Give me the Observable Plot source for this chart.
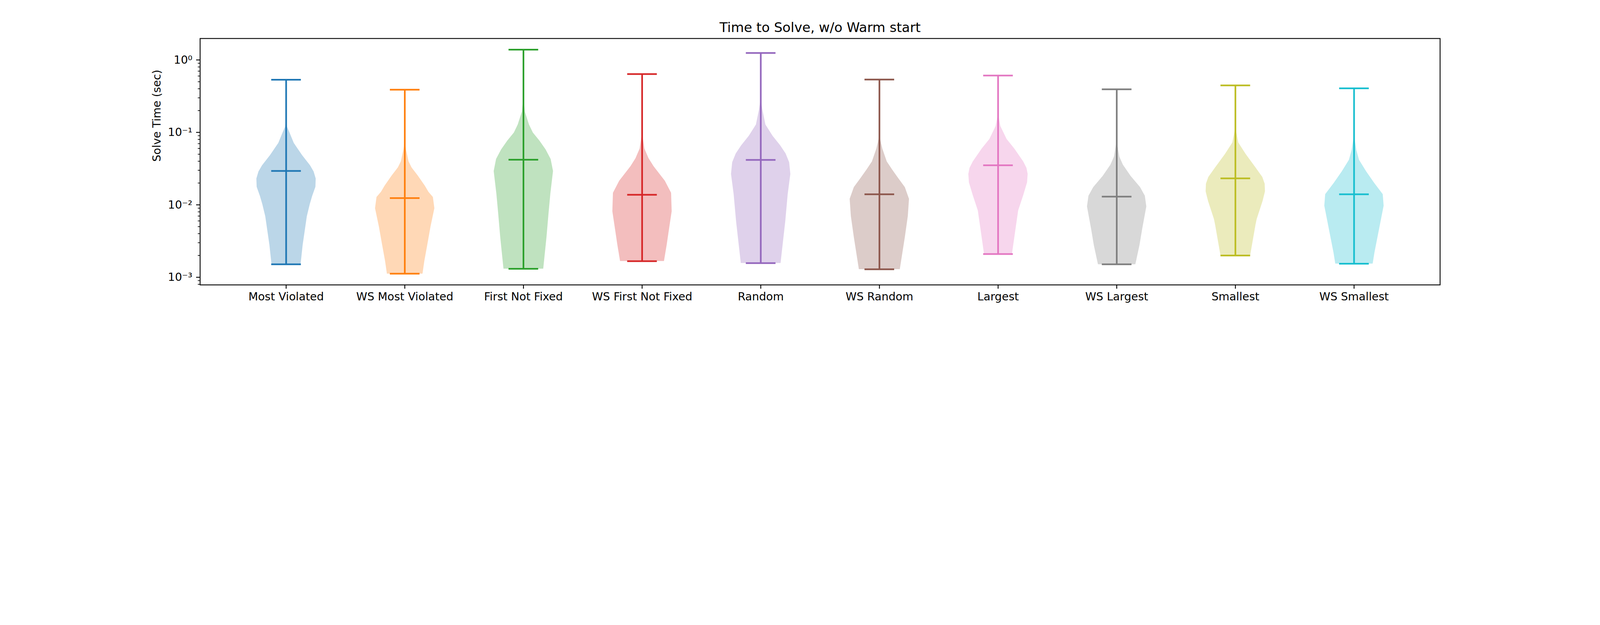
<!DOCTYPE html>
<html>
<head>
<meta charset="utf-8">
<script src="https://cdn.jsdelivr.net/npm/d3@7"></script>
<script src="https://cdn.jsdelivr.net/npm/@observablehq/plot@0.6"></script>
<style>
  html, body { margin: 0; padding: 0; background: white; }
  #chart svg { display: block; width: 100%; height: auto; }
</style>
</head>
<body>
<div id="chart"></div>
<script>
const methods = ["Most Violated", "WS Most Violated", "First Not Fixed", "WS First Not Fixed", "Random",
                 "WS Random", "Largest", "WS Largest", "Smallest", "WS Smallest"]
const palette = ["#1f77b4", "#ff7f0e", "#2ca02c", "#d62728", "#9467bd",
                 "#8c564b", "#e377c2", "#7f7f7f", "#bcbd22", "#17becf"]

// extrema and mean of each violin (sec)
const maxTime  = [0.533, 0.388, 1.387, 0.638, 1.246, 0.536, 0.610, 0.393, 0.445, 0.406]
const meanTime = [0.0294, 0.0124, 0.0419, 0.01376, 0.0417, 0.01397, 0.0352, 0.0130, 0.0232, 0.0140]
const minTime  = [0.00151, 0.00112, 0.00131, 0.00167, 0.00157, 0.00129, 0.00209, 0.00151, 0.00200, 0.00154]

// violin outlines: time (sec) and density relative to each violin's widest point
const mostViolatedT = [0.146, 0.120, 0.0987, 0.0714, 0.0484, 0.0350, 0.0288, 0.0230, 0.0177, 0.0132, 0.0102, 0.00692, 0.00439, 0.00279, 0.00151]
const mostViolatedD = [0, 0.03, 0.12, 0.26, 0.54, 0.81, 0.93, 1.0, 0.99, 0.88, 0.80, 0.70, 0.63, 0.56, 0.49]
const wsMostViolatedT = [0.0762, 0.0588, 0.0398, 0.0328, 0.0253, 0.0183, 0.0151, 0.0128, 0.00897, 0.00500, 0.00279, 0.00166, 0.00112]
const wsMostViolatedD = [0, 0.04, 0.13, 0.23, 0.44, 0.68, 0.80, 0.95, 1.0, 0.87, 0.76, 0.66, 0.60]
const firstNotFixedT = [0.306, 0.193, 0.128, 0.0994, 0.0769, 0.0581, 0.0428, 0.0292, 0.01426, 0.00773, 0.00359, 0.00131]
const firstNotFixedD = [0, 0.05, 0.19, 0.32, 0.54, 0.75, 0.92, 1.0, 0.91, 0.85, 0.78, 0.67]
const wsFirstNotFixedT = [0.0994, 0.0596, 0.0439, 0.0340, 0.0214, 0.01463, 0.00813, 0.00463, 0.00278, 0.00167]
const wsFirstNotFixedD = [0, 0.08, 0.22, 0.39, 0.77, 0.98, 1.0, 0.91, 0.83, 0.74]
const randomT = [0.290, 0.203, 0.128, 0.0897, 0.0660, 0.0511, 0.0386, 0.0266, 0.0139, 0.00598, 0.00157]
const randomD = [0, 0.06, 0.16, 0.40, 0.66, 0.84, 0.96, 1.0, 0.91, 0.83, 0.67]
const wsRandomT = [0.0897, 0.0596, 0.0396, 0.0307, 0.0232, 0.0175, 0.01205, 0.00698, 0.00359, 0.00129]
const wsRandomD = [0, 0.10, 0.25, 0.43, 0.64, 0.86, 1.0, 0.96, 0.86, 0.69]
const largestT = [0.1834, 0.1219, 0.0810, 0.0596, 0.0396, 0.0323, 0.0266, 0.0204, 0.01355, 0.00834, 0.00463, 0.00209]
const largestD = [0, 0.08, 0.29, 0.55, 0.85, 0.96, 1.0, 0.98, 0.85, 0.68, 0.59, 0.47]
const wsLargestT = [0.0769, 0.0462, 0.0358, 0.0250, 0.0175, 0.01334, 0.00947, 0.00463, 0.00278, 0.00151]
const wsLargestD = [0, 0.09, 0.21, 0.47, 0.79, 0.95, 1.0, 0.86, 0.77, 0.63]
const smallestT = [0.114, 0.0921, 0.0723, 0.0501, 0.0328, 0.0242, 0.0195, 0.01532, 0.01130, 0.00634, 0.00528, 0.00200]
const smallestD = [0, 0.05, 0.10, 0.35, 0.68, 0.91, 0.99, 1.0, 0.92, 0.72, 0.68, 0.50]
const wsSmallestT = [0.0921, 0.0567, 0.0418, 0.0290, 0.0201, 0.0140, 0.00971, 0.00545, 0.00219, 0.00154]
const wsSmallestD = [0, 0.08, 0.17, 0.41, 0.68, 0.97, 1.0, 0.88, 0.69, 0.63]

const majorTicks = [0.001, 0.01, 0.1, 1]
const majorLabels = ["10⁻³", "10⁻²", "10⁻¹", "10⁰"]
const minorTicks = [0.0008, 0.0009,
  0.002, 0.003, 0.004, 0.005, 0.006, 0.007, 0.008, 0.009,
  0.02, 0.03, 0.04, 0.05, 0.06, 0.07, 0.08, 0.09,
  0.2, 0.3, 0.4, 0.5, 0.6, 0.7, 0.8, 0.9]

const profiles = [
  [mostViolatedT, mostViolatedD], [wsMostViolatedT, wsMostViolatedD],
  [firstNotFixedT, firstNotFixedD], [wsFirstNotFixedT, wsFirstNotFixedD],
  [randomT, randomD], [wsRandomT, wsRandomD],
  [largestT, largestD], [wsLargestT, wsLargestD],
  [smallestT, smallestD], [wsSmallestT, wsSmallestD]
]

const halfWidth = 0.25   // violin widths = 0.5
const capHalf = 0.125

const bodies = profiles.flatMap(([ts, ds], i) =>
  ts.map((t, j) => ({method: methods[i], pos: i + 1, t, d: ds[j]})))

const stats = methods.map((m, i) => ({
  method: m, pos: i + 1, max: maxTime[i], mean: meanTime[i], min: minTime[i]
}))

const lw = 8.3
const chart = Plot.plot({
  width: 8000,
  height: 1600,
  marginLeft: 1000,
  marginRight: 800,
  marginTop: 192,
  marginBottom: 176,
  style: {fontFamily: "DejaVu Sans", fontSize: "55.6px", background: "white", color: "black"},
  x: {domain: [0.275, 10.725]},
  y: {type: "log", domain: [10 ** -3.105, 10 ** 0.296]},
  color: {domain: methods, range: palette},
  marks: [
    Plot.areaX(bodies, {
      y: "t",
      x1: d => d.pos - d.d * halfWidth,
      x2: d => d.pos + d.d * halfWidth,
      fill: "method",
      fillOpacity: 0.3,
      curve: "linear"
    }),
    Plot.ruleX(stats, {x: "pos", y1: "min", y2: "max", stroke: "method", strokeWidth: lw}),
    Plot.ruleY(stats, {y: "max", x1: d => d.pos - capHalf, x2: d => d.pos + capHalf, stroke: "method", strokeWidth: lw}),
    Plot.ruleY(stats, {y: "mean", x1: d => d.pos - capHalf, x2: d => d.pos + capHalf, stroke: "method", strokeWidth: lw}),
    Plot.ruleY(stats, {y: "min", x1: d => d.pos - capHalf, x2: d => d.pos + capHalf, stroke: "method", strokeWidth: lw}),
    Plot.frame({stroke: "black", strokeWidth: 4.4}),
    Plot.axisX({
      ticks: methods.map((m, i) => i + 1),
      tickFormat: p => methods[p - 1],
      tickSize: 19.4, tickPadding: 19.4, strokeWidth: 4.4,
      fontSize: 55.6, label: null
    }),
    Plot.axisY({
      ticks: majorTicks,
      tickFormat: v => majorLabels[majorTicks.indexOf(v)],
      tickSize: 19.4, tickPadding: 19.4, strokeWidth: 4.4,
      fontSize: 55.6, label: null
    }),
    Plot.axisY({
      ticks: minorTicks,
      tickFormat: () => "",
      tickSize: 11, strokeWidth: 3.3, label: null
    }),
    Plot.text(["Solve Time (sec)"], {frameAnchor: "left", rotate: -90, dx: -216, fontSize: 55.6}),
    Plot.text(["Time to Solve, w/o Warm start"], {frameAnchor: "top", lineAnchor: "bottom", dy: -33, fontSize: 66.7})
  ]
})

d3.select("#chart").append(() => chart)
</script>
</body>
</html>
